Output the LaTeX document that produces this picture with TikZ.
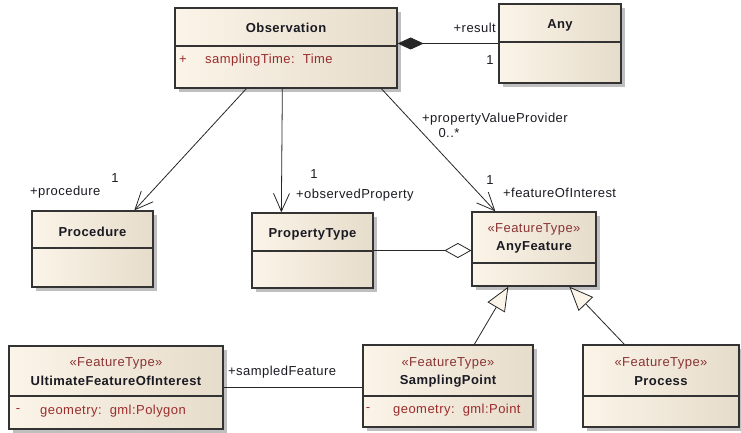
\documentclass[tikz,border=0pt]{standalone}
\usepackage{fontspec}
\setmainfont{Liberation Sans}[LetterSpace=3.5]
\usetikzlibrary{arrows.meta,shadows,calc}
\definecolor{creamL}{HTML}{FBF4E8}
\definecolor{creamR}{HTML}{E6DCCB}
\definecolor{edge}{HTML}{333333}
\definecolor{attr}{HTML}{9A2C2C}
\definecolor{stereo}{HTML}{8A3434}
\definecolor{txt}{HTML}{1A1A22}
\tikzset{
 cls/.style={draw=edge, line width=1.3pt, left color=creamL, right color=creamR,
   drop shadow={shadow xshift=4pt, shadow yshift=-4pt, fill=black!25, opacity=1}, inner sep=0pt},
 div/.style={draw=edge, line width=1.2pt},
 cname/.style={font=\fontsize{13}{15}\selectfont\bfseries, text=txt, inner sep=0pt},
 ster/.style={font=\fontsize{13}{15}\selectfont, text=stereo, inner sep=0pt},
 att/.style={font=\fontsize{13}{15}\selectfont, text=attr, inner sep=0pt},
 lbl/.style={font=\fontsize{13}{15}\selectfont, text=txt, inner sep=0pt},
 conn/.style={draw=black!85, line width=0.8pt},
 assoc/.style={conn, -{Straight Barb[length=18pt,width=16pt,line width=0.8pt]}},
 gen/.style={conn, -{Triangle[length=24pt,width=20pt,fill=creamL,line width=0.8pt]}},
 comp/.style={conn, {Diamond[length=26pt,width=12pt]}-},
 aggr/.style={conn, -{Diamond[length=27pt,width=15pt,fill=white,line width=0.8pt]}},
}
\begin{document}
\begin{tikzpicture}[x=1pt,y=-1pt]
\useasboundingbox (0,0) rectangle (741,433);

% class boxes
\node[cls, minimum width=222pt, minimum height=80pt] (obs) at (286,48) {};
\node[cls, minimum width=122pt, minimum height=79pt] (any) at (560,43.5) {};
\node[cls, minimum width=121pt, minimum height=76pt] (proc) at (92.5,249) {};
\node[cls, minimum width=121pt, minimum height=75pt] (pt) at (312.5,250.5) {};
\node[cls, minimum width=124pt, minimum height=74pt] (af) at (534,249) {};
\node[cls, minimum width=214pt, minimum height=83pt] (ufoi) at (116,387.5) {};
\node[cls, minimum width=170pt, minimum height=82pt] (sp) at (448,386) {};
\node[cls, minimum width=156pt, minimum height=82pt] (prc) at (661,386) {};

% dividers
\draw[div] (obs.west |- 0,46) -- (obs.east |- 0,46);
\draw[div] (any.west |- 0,42) -- (any.east |- 0,42);
\draw[div] (proc.west |- 0,248) -- (proc.east |- 0,248);
\draw[div] (pt.west |- 0,251) -- (pt.east |- 0,251);
\draw[div] (af.west |- 0,263) -- (af.east |- 0,263);
\draw[div] (ufoi.west |- 0,396) -- (ufoi.east |- 0,396);
\draw[div] (sp.west |- 0,396) -- (sp.east |- 0,396);
\draw[div] (prc.west |- 0,396) -- (prc.east |- 0,396);

% class texts
\node[cname] (obsN) at (286,28) {Observation};
\node[att] (obsP) at (183,60) {+};
\node[att, anchor=west] (obsA) at (205,60) {samplingTime:\ \ Time};
\node[cname] (anyN) at (560,25) {Any};
\node[cname] (procN) at (92.5,232) {Procedure};
\node[cname] (ptN) at (312.5,234) {PropertyType};
\node[ster] (afS) at (534,229) {«FeatureType»};
\node[cname] (afN) at (534,247) {AnyFeature};
\node[ster] (ufoiS) at (116,363) {«FeatureType»};
\node[cname] (ufoiN) at (116,381) {UltimateFeatureOfInterest};
\node[att] (ufoiM) at (18,411) {-};
\node[att, anchor=west] (ufoiA) at (40,411) {geometry:\ \ gml:Polygon};
\node[ster] (spS) at (448,363) {«FeatureType»};
\node[cname] (spN) at (448,381) {SamplingPoint};
\node[att] (spM) at (368,410) {-};
\node[att, anchor=west] (spA) at (393,410) {geometry:\ \ gml:Point};
\node[ster] (prcS) at (661,363) {«FeatureType»};
\node[cname] (prcN) at (661,381) {Process};

% connectors
\draw[comp] (any.west -| obs.east) -- (any.west);
\draw[assoc] ($(obs.south west)+(72,0)$) -- ($(proc.north west)+(103,0)$);
\draw[assoc] ($(obs.south west)+(108,0)$) -- ($(pt.north west)+(30,0)$);
\draw[assoc] ($(obs.south west)+(207,0)$) -- ($(af.north west)+(24,0)$);
\draw[aggr] (pt.east) -- (pt.east -| af.west);
\draw[gen] ($(sp.north west)+(112,0)$) -- ($(af.south west)+(37,0)$);
\draw[gen] ($(prc.north west)+(42,0)$) -- ($(af.south west)+(98,0)$);
\draw[conn] (ufoi.east |- 0,387) -- (sp.west |- 0,387);

% connector labels
\node[lbl, anchor=east] (lResult) at (496,28) {+result};
\node[lbl] (lResult1) at (490,60) {1};
\node[lbl, anchor=west] (lProc) at (30,192) {+procedure};
\node[lbl] (lProc1) at (115,178) {1};
\node[lbl] (lOP1) at (314,174) {1};
\node[lbl, anchor=west] (lOP) at (296,195) {+observedProperty};
\node[lbl, anchor=west] (lPVP) at (422,119) {+propertyValueProvider};
\node[lbl] (lPVPm) at (449,133) {0..*};
\node[lbl] (lFoI1) at (490,180) {1};
\node[lbl, anchor=west] (lFoI) at (503,193) {+featureOfInterest};
\node[lbl, anchor=west] (lSF) at (228,372) {+sampledFeature};
\end{tikzpicture}
\end{document}
